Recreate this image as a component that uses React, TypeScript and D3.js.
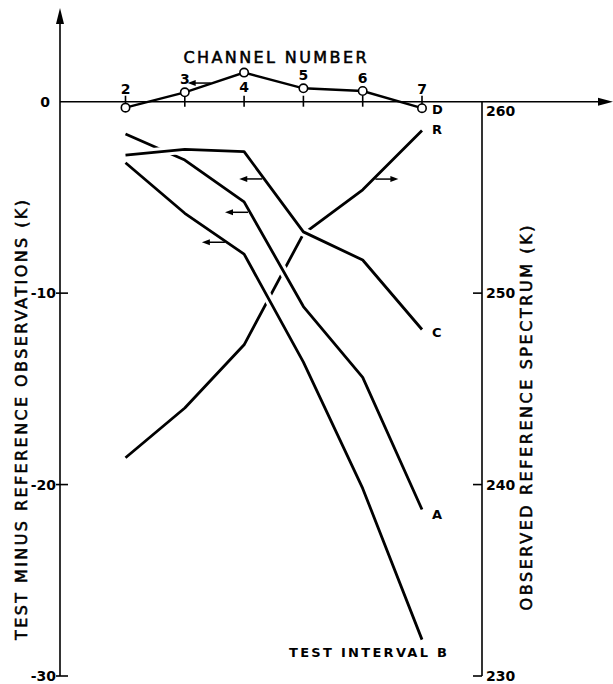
import React from 'react';
import * as d3 from 'd3';

// channel numbers along the top axis
const channels = [2, 3, 4, 5, 6, 7];
// test minus reference (K), left axis
const seriesD = [-0.31, 0.49, 1.52, 0.7, 0.56, -0.34];
const seriesA = [-1.69, -3.05, -5.23, -10.7, -14.4, -21.3];
const seriesB = [-3.19, -5.83, -7.96, -13.6, -20.2, -28.1];
const seriesC = [-2.79, -2.49, -2.61, -6.8, -8.27, -11.9];
// observed reference spectrum (K), right axis
const seriesR = [241.4, 244.0, 247.3, 253.1, 255.4, 258.5];

const leftTicks = [0, -10, -20, -30];
const rightTicks = [260, 250, 240, 230];

// small arrows telling which axis a curve is read on
const arrowMarks = [
  { series: 'D', ch: 3.47, dir: -1 },
  { series: 'C', ch: 4.34, dir: -1 },
  { series: 'A', ch: 4.1, dir: -1 },
  { series: 'B', ch: 3.71, dir: -1 },
  { series: 'R', ch: 6.18, dir: 1 },
];

const W = 613;
const H = 684;
const font = '"DejaVu Sans", Verdana, sans-serif';

const App = () => {
  const x = d3.scaleLinear().domain([2, 7]).range([125.5, 422]);
  const yL = d3.scaleLinear().domain([0, -30]).range([101.7, 676]);
  const yR = d3.scaleLinear().domain([260, 230]).range([101.7, 676]);

  const axisX = 60;
  const rightX = 482;

  const line = d3.line<number>().x((d, i) => x(channels[i])).y((d) => yL(d));
  const lineR = d3.line<number>().x((d, i) => x(channels[i])).y((d) => yR(d));

  const pix = (name: string) => {
    const vals = { D: seriesD, A: seriesA, B: seriesB, C: seriesC, R: seriesR }[name];
    const sc = name === 'R' ? yR : yL;
    return (ch: number) => {
      const i = Math.min(Math.floor(ch - 2), 4);
      const t = ch - 2 - i;
      return sc(vals[i] + (vals[i + 1] - vals[i]) * t);
    };
  };

  const curve = (d: string, halo: boolean) => (
    <g>
      {halo && <path d={d} fill="none" stroke="#fff" strokeWidth={9} />}
      <path d={d} fill="none" stroke="#000" strokeWidth={2.8} strokeLinejoin="round" />
    </g>
  );

  const endLabels = [
    { t: 'D', v: yL(seriesD[5]), dy: 1 },
    { t: 'R', v: yR(seriesR[5]), dy: -1 },
    { t: 'C', v: yL(seriesC[5]), dy: 3 },
    { t: 'A', v: yL(seriesA[5]), dy: 5 },
  ];

  const titleStyle = { stroke: '#000', strokeWidth: 0.55 };

  return (
    <svg
      width={W}
      height={H}
      style={{ position: 'absolute', left: 0, top: 0, background: '#fff' }}
      fontFamily={font}
      fontWeight="bold"
    >
      <rect width={W} height={H} fill="#fff" />

      {/* left axis with arrow */}
      <line x1={axisX} x2={axisX} y1={20} y2={yL(-30)} stroke="#000" strokeWidth={1.6} />
      <path d={`M${axisX},8 L${axisX - 4},24 L${axisX + 4},24 Z`} fill="#000" />
      {leftTicks.map((t) => (
        <g key={t}>
          {t !== 0 && (
            <line x1={axisX - 4} x2={axisX + 8} y1={yL(t)} y2={yL(t)} stroke="#000" strokeWidth={1.6} />
          )}
          <text x={t === 0 ? 50 : 56} y={yL(t)} dy="0.36em" textAnchor="end" fontSize={14}>
            {t === 0 ? '0' : `-${Math.abs(t)}`}
          </text>
        </g>
      ))}

      {/* top axis with arrow */}
      <line x1={axisX} x2={600} y1={yL(0)} y2={yL(0)} stroke="#000" strokeWidth={1.6} />
      <path d={`M613,${yL(0)} L598,${yL(0) - 4} L598,${yL(0) + 4} Z`} fill="#000" />
      {channels.map((c) => (
        <line key={c} x1={x(c)} x2={x(c)} y1={yL(0) - 6} y2={yL(0) + 5} stroke="#000" strokeWidth={1.6} />
      ))}
      <text
        x={275}
        y={63}
        fontSize={16}
        fontWeight="normal"
        textAnchor="middle"
        textLength={183}
        lengthAdjust="spacing"
        style={titleStyle}
      >
        CHANNEL NUMBER
      </text>

      {/* right axis */}
      <line x1={rightX} x2={rightX} y1={yR(260)} y2={yR(230)} stroke="#000" strokeWidth={1.6} />
      {rightTicks.map((t) => (
        <g key={t}>
          {t !== 260 && (
            <line x1={rightX - 9} x2={rightX} y1={yR(t)} y2={yR(t)} stroke="#000" strokeWidth={1.6} />
          )}
          <text x={rightX + 4} y={t === 260 ? yR(t) + 9 : yR(t)} dy="0.36em" fontSize={14}>
            {t}
          </text>
        </g>
      ))}

      {/* axis titles */}
      <text
        transform={`translate(27,420) rotate(-90)`}
        textAnchor="middle"
        fontSize={16}
        fontWeight="normal"
        textLength={440}
        lengthAdjust="spacing"
        style={titleStyle}
      >
        TEST MINUS REFERENCE OBSERVATIONS (K)
      </text>
      <text
        transform={`translate(532,418) rotate(-90)`}
        textAnchor="middle"
        fontSize={16}
        fontWeight="normal"
        textLength={385}
        lengthAdjust="spacing"
        style={titleStyle}
      >
        OBSERVED REFERENCE SPECTRUM (K)
      </text>

      {/* curves: later ones break the earlier where they cross */}
      {curve(lineR(seriesR) as string, false)}
      {curve(line(seriesB) as string, true)}
      {curve(line(seriesA) as string, true)}
      {curve(line(seriesC) as string, true)}

      {/* channel D with open circles */}
      <path d={line(seriesD) as string} fill="none" stroke="#000" strokeWidth={2.4} />
      {seriesD.map((v, i) => (
        <circle key={i} cx={x(channels[i])} cy={yL(v)} r={4.2} fill="#fff" stroke="#000" strokeWidth={1.6} />
      ))}
      {seriesD.map((v, i) => {
        const below = channels[i] === 4;
        const yy = below ? yL(v) + 14 : Math.min(yL(v), yL(0)) - 13;
        return (
          <text key={i} x={x(channels[i])} y={yy} dy="0.36em" textAnchor="middle" fontSize={14}>
            {channels[i]}
          </text>
        );
      })}

      {/* arrows */}
      {arrowMarks.map((a, i) => {
        const x0 = x(a.ch) + a.dir * 2;
        const x1 = x0 + a.dir * 23;
        const yy = pix(a.series)(a.ch);
        return (
          <g key={i}>
            <line x1={x0} x2={x1 - a.dir * 5} y1={yy} y2={yy} stroke="#000" strokeWidth={1.5} />
            <path d={`M${x1},${yy} L${x1 - a.dir * 8},${yy - 3} L${x1 - a.dir * 8},${yy + 3} Z`} fill="#000" />
          </g>
        );
      })}

      {/* curve letters */}
      {endLabels.map((l) => (
        <text key={l.t} x={x(7) + 10} y={l.v + l.dy} dy="0.36em" fontSize={13}>
          {l.t}
        </text>
      ))}
      <text x={447} y={yL(seriesB[5]) + 13} dy="0.36em" textAnchor="end" fontSize={13} textLength={158} lengthAdjust="spacing">
        TEST INTERVAL B
      </text>
    </svg>
  );
};

export default App;
